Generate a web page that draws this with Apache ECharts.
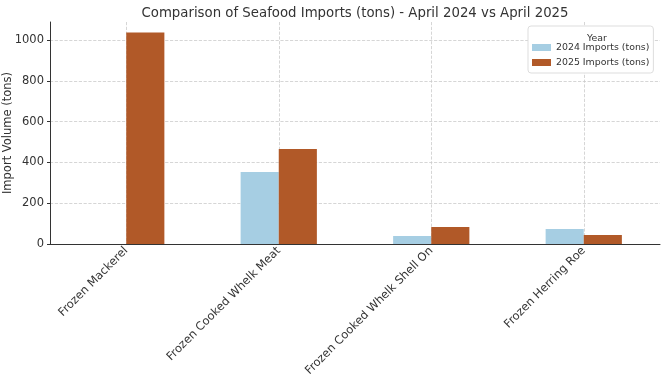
<!DOCTYPE html>
<html><head><meta charset="utf-8">
<script src="https://cdn.jsdelivr.net/npm/echarts@6/dist/echarts.min.js"></script>
<style>html,body{margin:0;padding:0;background:#fff}#c{width:661px;height:380px}</style>
</head><body><div id="c"></div>
<script>
const categories = ["Frozen Mackerel", "Frozen Cooked Whelk Meat", "Frozen Cooked Whelk Shell On", "Frozen Herring Roe"];
const imports2024 = [0, 353, 39, 73];
const imports2025 = [1036, 465, 83, 44];
const seriesNames = ["2024 Imports (tons)", "2025 Imports (tons)"];
const yTicks = [0, 200, 400, 600, 800, 1000];

const chart = echarts.init(document.getElementById('c'), null, {renderer: 'canvas'});
const font = 'DejaVu Sans';
chart.setOption({
  animation: false,
  textStyle: {fontFamily: font},
  title: [
    {text: 'Comparison of Seafood Imports (tons) - April 2024 vs April 2025', left: 350, top: 2, textAlign: 'center',
     textStyle: {fontFamily: font, fontSize: 13.3, fontWeight: 'normal', color: '#333'}},
    {text: 'Year', left: 592, top: 29, textAlign: 'center',
     textStyle: {fontFamily: font, fontSize: 9.4, fontWeight: 'normal', color: '#333'}}
  ],
  legend: {
    data: seriesNames, orient: 'vertical', left: 528, top: 26,
    padding: [17, 4, 6, 4], itemGap: 6, itemWidth: 19, itemHeight: 7,
    borderColor: '#ddd', borderWidth: 1, borderRadius: 3, backgroundColor: '#fff',
    textStyle: {fontFamily: font, fontSize: 9.4, color: '#333'},
    icon: 'rect'
  },
  grid: {left: 50, right: 1, top: 22, bottom: 136, containLabel: false, outerBoundsMode: 'none'},
  xAxis: {
    type: 'category', data: categories, boundaryGap: true,
    axisLine: {lineStyle: {color: '#333', width: 1}},
    axisTick: {alignWithLabel: true, length: 3, lineStyle: {color: '#333'}},
    axisLabel: {rotate: 45, fontSize: 11.5, color: '#333', margin: 5, fontFamily: font, interval: 0},
    splitLine: {show: true, alignWithLabel: true, lineStyle: {type: 'dashed', color: '#ccc', width: 0.8}}
  },
  yAxis: {
    type: 'value', min: 0, max: 1088, interval: 200,
    name: 'Import Volume (tons)', nameLocation: 'middle', nameGap: 36, nameMoveOverlap: false,
    nameTextStyle: {fontFamily: font, fontSize: 11.5, color: '#333'},
    axisLine: {show: true, lineStyle: {color: '#333', width: 1}},
    axisTick: {show: true, length: 3, lineStyle: {color: '#333'}},
    axisLabel: {fontSize: 11.5, color: '#333', margin: 6, fontFamily: font,
      showMaxLabel: false,
      formatter: v => yTicks.includes(v) ? String(v) : ''},
    splitLine: {show: true, showMaxLine: false, lineStyle: {type: 'dashed', color: '#ccc', width: 0.8}}
  },
  series: [
    {name: seriesNames[0], type: 'bar', data: imports2024, barWidth: '25%', barGap: '0%',
     itemStyle: {color: '#a6cee3'}},
    {name: seriesNames[1], type: 'bar', data: imports2025, barWidth: '25%', barGap: '0%',
     itemStyle: {color: '#b15928'}}
  ]
});
</script></body></html>
